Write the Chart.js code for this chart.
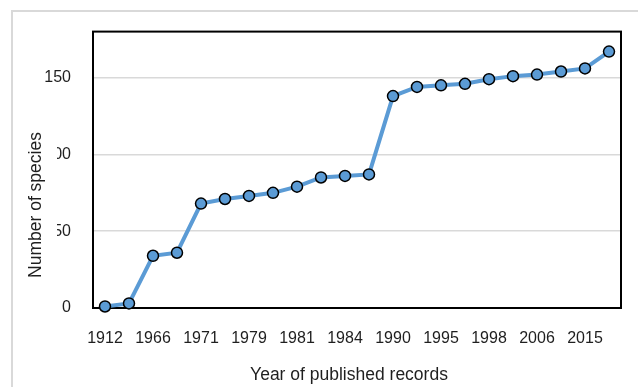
<!DOCTYPE html>
<html>
<head>
<meta charset="utf-8">
<script src="https://cdn.jsdelivr.net/npm/chart.js@4.4.1/dist/chart.umd.min.js"></script>
<style>
  body { margin: 0; background: #fff; }
  .frame { position: absolute; left: 11px; top: 10px; width: 640px; height: 400px;
    border-top: 2px solid #d9d9d9; border-left: 2px solid #d9d9d9; }
  .wrap { position: absolute; left: 0; top: 0; width: 638px; height: 387px; }
</style>
</head>
<body>
<div class="frame"></div>
<div class="wrap"><canvas id="species-chart" width="638" height="387"></canvas></div>
<script>
const yearLabels = ['1912', '1950', '1966', '1968', '1971', '1975', '1979', '1980', '1981', '1982', '1984',
  '1987', '1990', '1993', '1995', '1996', '1998', '2002', '2006', '2012', '2015', '2019']
const speciesCount = [1, 3, 34, 36, 68, 71, 73, 75, 79, 85, 86, 87, 138, 144, 145, 146, 149, 151, 152, 154, 156, 167]
const yTickValues = [0, 50, 100, 150]

const xTitle = 'Year of published records'
const yTitle = 'Number of species'

const fontFamily = "'Liberation Sans', Arial, sans-serif"
const textColor = '#1f1f1f'

// black box round the plot, drawn under the line so the points sit on it
const plotFrame = {
  id: 'plotFrame',
  beforeDatasetsDraw(chart) {
    const { ctx, chartArea } = chart
    ctx.save()
    ctx.strokeStyle = '#000'
    ctx.lineWidth = 2
    ctx.strokeRect(chartArea.left, chartArea.top, chartArea.right - chartArea.left, chartArea.bottom - chartArea.top)
    ctx.restore()
  }
}

// axis titles; the y title has a white box that hides part of the tick labels, as in the original
const axisTitles = {
  id: 'axisTitles',
  afterDraw(chart) {
    const { ctx, chartArea } = chart
    ctx.save()
    ctx.fillStyle = '#fff'
    ctx.fillRect(18, 125, 39, 168)

    ctx.fillStyle = textColor
    ctx.font = `17.5px ${fontFamily}`
    ctx.textAlign = 'center'
    ctx.textBaseline = 'middle'
    ctx.fillText(xTitle, (chartArea.left + chartArea.right) / 2 - 8, 375)

    ctx.translate(36, 205)
    ctx.rotate(-Math.PI / 2)
    ctx.fillText(yTitle, 0, 0)
    ctx.restore()
  }
}

const speciesCtx = document.getElementById('species-chart')

const speciesChart = new Chart(speciesCtx, {
  type: 'line',
  data: {
    labels: yearLabels,
    datasets: [{
      label: 'Species',
      data: speciesCount,
      borderColor: '#5b9bd5',
      borderWidth: 4,
      backgroundColor: '#5b9bd5',
      pointBackgroundColor: '#5b9bd5',
      pointBorderColor: '#000',
      pointBorderWidth: 1.5,
      pointRadius: 5.5,
      tension: 0,
      clip: false
    }]
  },
  options: {
    responsive: false,
    animation: false,
    devicePixelRatio: 1,
    layout: {
      padding: { top: 30, right: 17, left: 0, bottom: 0 }
    },
    plugins: {
      legend: { display: false },
      tooltip: { enabled: false }
    },
    scales: {
      x: {
        offset: true,
        grid: { display: false, drawTicks: false },
        border: { display: false },
        ticks: {
          autoSkip: false,
          maxRotation: 0,
          padding: 21,
          color: textColor,
          font: { size: 16, family: fontFamily },
          callback: function (value, index) {
            return index % 2 === 0 ? this.getLabelForValue(value) : ''
          }
        },
        afterFit: (scale) => { scale.height = 79 }
      },
      y: {
        min: 0,
        max: 180,
        afterBuildTicks: (scale) => {
          scale.ticks = yTickValues.map(v => ({ value: v }))
        },
        grid: { color: '#d9d9d9', lineWidth: 1.5, drawTicks: false },
        border: { display: false },
        ticks: {
          padding: 22,
          color: textColor,
          font: { size: 16, family: fontFamily }
        },
        afterFit: (scale) => { scale.width = 93 }
      }
    }
  },
  plugins: [plotFrame, axisTitles]
})
</script>
</body>
</html>
